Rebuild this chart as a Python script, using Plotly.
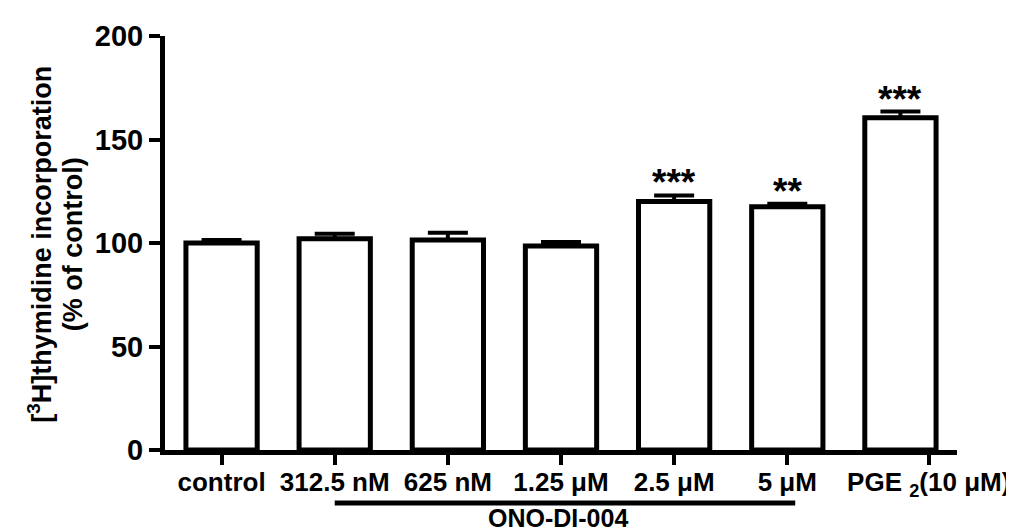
import plotly.graph_objects as go

categories = ["control", "312.5 nM", "625 nM", "1.25 μM", "2.5 μM", "5 μM", "PGE <sub>2</sub>(10 μM)"]
values = [100, 102, 101.5, 98.5, 120, 117.5, 160.5]
errors = [1.5, 2.5, 3.5, 2, 3, 1.5, 3]
stars = ["", "", "", "", "***", "**", "***"]
y_ticks = [0, 50, 100, 150, 200]
group_label = "ONO-DI-004"
group_span = (1, 5)

FONT = "Liberation Sans, Arial, sans-serif"
positions = list(range(len(categories)))
tick_positions = positions[:-1] + [positions[-1] + 0.25]

fig = go.Figure()
fig.add_trace(go.Bar(
    x=positions, y=values, width=0.63,
    marker=dict(color="white", line=dict(color="black", width=5)),
    error_y=dict(type="data", symmetric=False, array=errors,
                 arrayminus=[0] * len(errors), color="black",
                 thickness=4, width=20),
    showlegend=False,
))

for p, v, e, s in zip(positions, values, errors, stars):
    if s:
        fig.add_annotation(x=p, y=v + e, text=s, showarrow=False,
                           xref="x", yref="y", xanchor="center", yanchor="bottom", yshift=-10,
                           font=dict(family=FONT, size=37, color="black", weight="bold"))

fig.add_shape(type="line", xref="x", yref="paper",
              x0=group_span[0], x1=group_span[1] + 0.07, y0=-0.128, y1=-0.128,
              line=dict(color="black", width=5))
fig.add_annotation(x=(group_span[0] + group_span[1]) / 2 - 0.03, y=-0.2,
                   xref="x", yref="paper", text=group_label, showarrow=False,
                   xanchor="center", yanchor="bottom", borderpad=0,
                   font=dict(family=FONT, size=25, color="black", weight="bold"))

fig.add_annotation(x=-0.158, y=0.498, xref="paper", yref="paper",
                   text="[<sup>3</sup>H]thymidine incorporation", textangle=-90,
                   showarrow=False, xanchor="center", yanchor="middle",
                   font=dict(family=FONT, size=27, color="black", weight="bold"))
fig.add_annotation(x=-0.117, y=0.498, xref="paper", yref="paper",
                   text="(% of control)", textangle=-90, showarrow=False,
                   xanchor="center", yanchor="middle",
                   font=dict(family=FONT, size=27, color="black", weight="bold"))

fig.update_layout(
    width=1014, height=531,
    margin=dict(l=157, r=55, t=26, b=89),
    paper_bgcolor="white", plot_bgcolor="white",
    xaxis=dict(range=[-0.5, len(categories) - 0.5], tickmode="array",
               tickvals=tick_positions, ticktext=categories,
               showline=True, linecolor="black", linewidth=5,
               ticks="outside", ticklen=10, tickwidth=4, tickcolor="black",
               ticklabelstandoff=-5,
               showgrid=False, zeroline=False,
               tickfont=dict(family=FONT, size=26, color="black", weight="bold")),
    yaxis=dict(range=[0, 200], tickvals=y_ticks,
               showline=True, linecolor="black", linewidth=5,
               ticks="outside", ticklen=11, tickwidth=4, tickcolor="black",
               showgrid=False, zeroline=False,
               tickfont=dict(family=FONT, size=29, color="black", weight="bold")),
)

fig.write_html("out.html")
